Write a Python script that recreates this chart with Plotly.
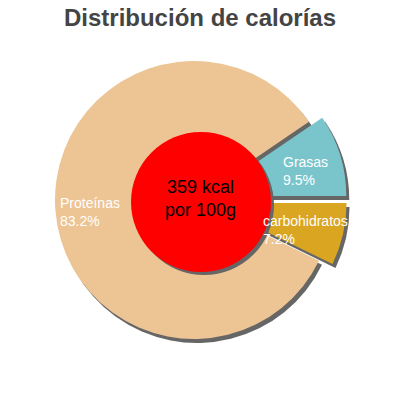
import plotly.graph_objects as go

# Data
labels = ["Grasas", "carbohidratos", "Proteínas"]
values = [9.5, 7.2, 83.2]
pulls = [0.1, 0.1, 0.0]
colors = ["#7AC4CC", "#DAA520", "#EDC493"]
title_text = "Distribución de calorías"
center_text = "359 kcal<br>por 100g"

W = H = 400.0
FONT = "Liberation Sans, Arial, sans-serif"

# Pie geometry in pixels (centre and radius), converted to paper domain
cx, cy, r = 194.0, 200.0, 139.0
maxpull = max(pulls)
half = r * (1 + maxpull)
dom_x = [(cx - half) / W, (cx + half) / W]
dom_y = [(H - cy - half) / H, (H - cy + half) / H]
sdx, sdy = 3 / W, -4 / H

total = sum(values)
start_rot = 90 - values[0] / total * 360

fig = go.Figure()
# shadow
fig.add_trace(go.Pie(
    labels=labels, values=values, pull=pulls, sort=False,
    direction="clockwise", rotation=start_rot,
    marker=dict(colors=["#666666"] * len(values), line=dict(width=0)),
    textinfo="none", hoverinfo="skip", showlegend=False,
    domain=dict(x=[dom_x[0] + sdx, dom_x[1] + sdx], y=[dom_y[0] + sdy, dom_y[1] + sdy]),
))
# main pie
fig.add_trace(go.Pie(
    labels=labels, values=values, pull=pulls, sort=False,
    direction="clockwise", rotation=start_rot,
    marker=dict(colors=colors, line=dict(width=0)),
    textinfo="none", hoverinfo="label+percent", showlegend=False,
    domain=dict(x=dom_x, y=dom_y),
))

# centre red disc with shadow
rcx, rcy, rr = 201.0, 202.0, 70.0
def circ(x, y, rad, color):
    return dict(type="circle", xref="paper", yref="paper", layer="above",
                x0=(x - rad) / W, x1=(x + rad) / W,
                y0=(H - y - rad) / H, y1=(H - y + rad) / H,
                fillcolor=color, line=dict(width=0))
fig.add_shape(circ(rcx + 3, rcy + 3, rr, "#666666"))
fig.add_shape(circ(rcx, rcy, rr, "#FF0000"))

fig.add_annotation(text=center_text, x=rcx / W, y=(H - rcy + 4) / H,
                   xref="paper", yref="paper", showarrow=False,
                   font=dict(family=FONT, size=18, color="#000000"),
                   xanchor="center", yanchor="middle", align="center")

# slice labels (left-aligned, white)
label_pos = {"Proteínas": (58, 193), "Grasas": (281, 152), "carbohidratos": (261, 211)}
for lab, v in zip(labels, values):
    px, py = label_pos[lab]
    fig.add_annotation(text=f"{lab}<br>{v:.1f}%", x=px / W, y=(H - py) / H,
                       xref="paper", yref="paper", showarrow=False,
                       xanchor="left", yanchor="top", align="left",
                       font=dict(family=FONT, size=14, color="#FFFFFF"))

fig.update_layout(
    width=400, height=400,
    margin=dict(l=0, r=0, t=0, b=0),
    paper_bgcolor="white", plot_bgcolor="white",
    title=dict(text=f"<b>{title_text}</b>", x=0.5, xanchor="center",
               y=(H - 18) / H, yanchor="middle", yref="paper",
               font=dict(family=FONT, size=24, color="#444444")),
)

fig.write_html("out.html", config={"displayModeBar": False},
               post_script="document.body.style.margin='0';")
